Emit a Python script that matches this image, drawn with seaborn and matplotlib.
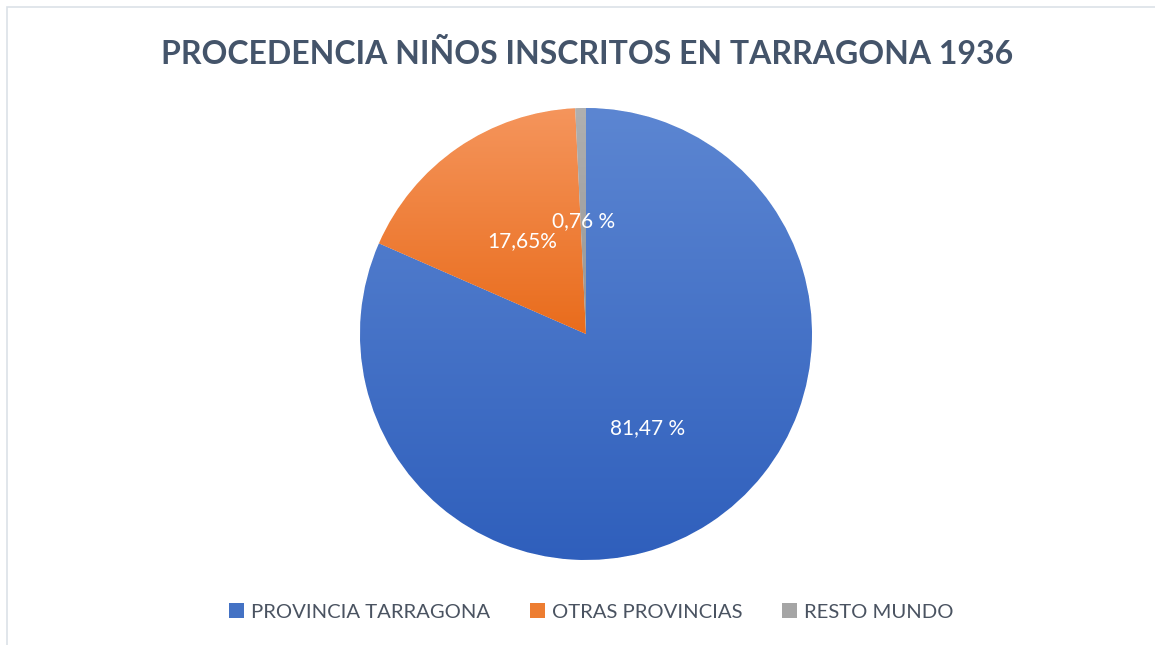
import numpy as np
import matplotlib
matplotlib.use("Agg")
import matplotlib.pyplot as plt
import matplotlib.colors as mcolors
from matplotlib.patches import Rectangle, Patch
import seaborn as sns

# === Data ===
categories = ["PROVINCIA TARRAGONA", "OTRAS PROVINCIAS", "RESTO MUNDO"]
shares = [81.47, 17.65, 0.76]
pct_labels = ["81,47 %", "17,65%", "0,76 %"]
title = "PROCEDENCIA NIÑOS INSCRITOS EN TARRAGONA 1936"

# gradient (top, bottom) per slice, Excel-like
top_colors = ["#5c86d2", "#f5955c", "#b0b0b0"]
bottom_colors = ["#2f5fbc", "#e96c1c", "#959595"]
solid_colors = ["#4472c4", "#ed7d31", "#a5a5a5"]

sns.set_theme(style="white")
plt.rcParams["font.family"] = ["Lato", "DejaVu Sans"]

fig = plt.figure(figsize=(11.55, 6.45), dpi=100)
fig.patch.set_facecolor("white")

# light chart-area border
fig.patches.append(Rectangle((7 / 1155, -0.2), 1.2, 1.2 - 7 / 645,
                             transform=fig.transFigure, fill=False,
                             edgecolor="#dce1e7", lw=1.2))

ax = fig.add_axes([0.3117, 0.1318, 0.3913, 0.7008])
wedges, _, autotexts = ax.pie(
    shares, colors=solid_colors, startangle=90, counterclock=False,
    autopct="%1.2f", pctdistance=0.5,
    wedgeprops=dict(edgecolor="white", linewidth=0.6),
    textprops=dict(color="white", fontsize=15),
)
for t, lab in zip(autotexts, pct_labels):
    t.set_text(lab)
    t.set_zorder(5)

# vertical gradient inside each wedge
for w, c_top, c_bot in zip(wedges, top_colors, bottom_colors):
    path = w.get_path().transformed(w.get_patch_transform())
    ext = path.get_extents()
    cmap = mcolors.LinearSegmentedColormap.from_list("g", [c_bot, c_top])
    grad = np.linspace(0, 1, 256).reshape(-1, 1)
    im = ax.imshow(grad, cmap=cmap, origin="lower", aspect="auto",
                   extent=[ext.x0, ext.x1, ext.y0, ext.y1], zorder=2)
    im.set_clip_path(w)

ax.set_xlim(-1, 1)
ax.set_ylim(-1, 1)
ax.set_aspect("equal")
ax.axis("off")

fig.text(0.508, 0.916, title, ha="center", va="center", fontsize=23,
         fontweight="bold", color="#44546a")

handles = [Patch(facecolor=c, edgecolor="none") for c in solid_colors]
fig.legend(handles, categories, loc="center", bbox_to_anchor=(0.512, 0.051),
           ncol=3, frameon=False, fontsize=14.6, handlelength=0.75,
           handleheight=0.75, handletextpad=0.35, columnspacing=1.95,
           labelcolor="#4a5361")

fig.savefig("out.png", dpi=100)
